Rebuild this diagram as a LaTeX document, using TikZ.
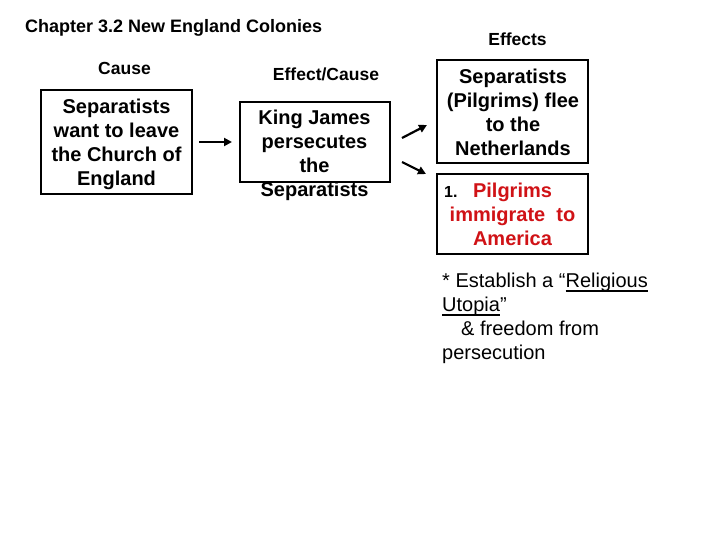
\documentclass[tikz,border=0pt]{standalone}
\usepackage{fontspec}
\setmainfont{Liberation Sans}
\usetikzlibrary{arrows.meta}
\definecolor{pred}{RGB}{208,18,22}
\newcommand\myul[1]{\setbox0\hbox{#1}\rlap{\rule[-4.5pt]{\wd0}{1.5pt}}\box0}
\begin{document}
\begin{tikzpicture}[x=1pt,y=-1pt,
  frame/.style={draw,line width=2pt,inner sep=0pt},
  boxtext/.style={font=\fontsize{20}{24}\selectfont\bfseries,align=center,inner sep=0pt,anchor=north},
  head/.style={font=\fontsize{17.5}{21}\selectfont\bfseries,inner sep=0pt,anchor=base},
  arr/.style={line width=2.2pt,-{Triangle[length=8pt,width=8pt]}}]
\useasboundingbox (0,0) rectangle (720,540);
\fill[white] (0,0) rectangle (720,540);
% headings
\node[head,anchor=base west,font=\fontsize{18}{21}\selectfont\bfseries] (title) at (25,33) {Chapter 3.2 New England Colonies};
\node[head] (hcause) at (124.5,75) {Cause};
\node[head] (heffcause) at (326,81) {Effect/Cause};
\node[head] (heffects) at (517.5,46) {Effects};
% boxes
\node[frame,minimum width=151pt,minimum height=104pt] (b1) at (116.5,142) {};
\node[frame,minimum width=150pt,minimum height=80pt] (b2) at (315,142) {};
\node[frame,minimum width=151pt,minimum height=103pt] (b3) at (512.5,111.5) {};
\node[frame,minimum width=151pt,minimum height=80pt] (b4) at (512.5,214) {};
% box texts
\node[boxtext] (t1) at (116.5,98.7) {Separatists\\want to leave\\the Church of\\England};
\node[boxtext] (t2) at (314.5,109.8) {King James\\persecutes\\the\\Separatists};
\node[boxtext] (t3) at (513,68.8) {Separatists\\(Pilgrims) flee\\to the\\Netherlands};
\node[boxtext,text=pred] (t4) at (512.5,182.6) {Pilgrims\\immigrate\ \ to\\America};
\node[font=\fontsize{16}{19}\selectfont\bfseries,inner sep=0pt,anchor=base west] (n1) at (444,197) {1.};
% free text
\node[font=\fontsize{20}{24}\selectfont,align=left,inner sep=0pt,anchor=north west] (txt) at (442,272.5)
  {* Establish a “\myul{Religious}\\\myul{Utopia}”\\\hspace*{19pt}\& freedom from\\persecution};
% arrows
\coordinate (u1) at (402,138);
\coordinate (u2) at (427,125);
\coordinate (d1) at (402,162);
\coordinate (d2) at (426,174);
\draw[arr,shorten <=6pt,shorten >=7pt] (b1.east) -- (b2.west);
\draw[arr] (u1) -- (u2);
\draw[arr] (d1) -- (d2);
\end{tikzpicture}
\end{document}
